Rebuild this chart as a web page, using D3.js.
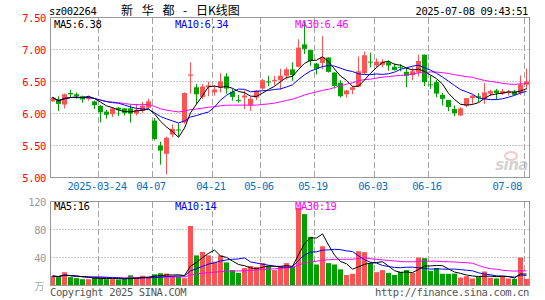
<!DOCTYPE html>
<html>
<head>
<meta charset="utf-8">
<script src="https://cdn.jsdelivr.net/npm/d3@7"></script>
<style>
  body { margin: 0; background: #fff; }
  svg { display: block; }
  text { font-family: "DejaVu Sans Mono", monospace; font-size: 10.5px; letter-spacing: -0.4px; }
</style>
</head>
<body>
<svg width="545" height="300"></svg>
<script>
// trading days, 2025-03-12 .. 2025-07-08
const dates = ['03-12','03-13','03-14','03-17','03-18','03-19','03-20','03-21','03-24','03-25',
  '03-26','03-27','03-28','03-31','04-01','04-02','04-03','04-07','04-08','04-09',
  '04-10','04-11','04-14','04-15','04-16','04-17','04-18','04-21','04-22','04-23',
  '04-24','04-25','04-28','04-29','04-30','05-06','05-07','05-08','05-09','05-12',
  '05-13','05-14','05-15','05-16','05-19','05-20','05-21','05-22','05-23','05-26',
  '05-27','05-28','05-29','05-30','06-03','06-04','06-05','06-06','06-09','06-10',
  '06-11','06-12','06-13','06-16','06-17','06-18','06-19','06-20','06-23','06-24',
  '06-25','06-26','06-27','06-30','07-01','07-02','07-03','07-04','07-07','07-08'];

const open = [6.19,6.22,6.14,6.32,6.30,6.27,6.23,6.19,6.12,6.03,
  5.99,6.09,6.08,6.08,6.00,6.04,6.09,5.89,5.50,5.37,
  5.67,5.75,5.86,6.59,6.41,6.26,6.41,6.33,6.41,6.58,
  6.34,6.21,6.25,6.13,6.25,6.39,6.50,6.51,6.52,6.59,
  6.69,6.73,7.08,6.99,6.78,6.79,6.875,6.64,6.48,6.30,
  6.37,6.42,6.63,6.81,6.755,6.76,6.80,6.73,6.73,6.65,
  6.60,6.64,6.92,6.455,6.49,6.29,6.21,6.07,5.97,6.125,
  6.24,6.27,6.23,6.31,6.36,6.31,6.32,6.345,6.32,6.45];
const high = [6.26,6.27,6.31,6.37,6.33,6.28,6.28,6.20,6.13,6.06,
  6.10,6.10,6.08,6.14,6.15,6.18,6.23,5.93,5.56,5.64,
  5.83,5.84,6.33,6.80,6.46,6.46,6.50,6.44,6.63,6.63,
  6.385,6.29,6.36,6.265,6.37,6.54,6.59,6.59,6.70,6.72,
  6.80,7.16,7.44,7.00,6.79,7.21,6.88,6.65,6.52,6.37,
  6.43,6.89,6.965,6.95,6.86,6.85,6.83,6.78,6.77,6.72,
  6.72,6.92,6.92,6.595,6.525,6.32,6.21,6.125,6.10,6.24,
  6.29,6.32,6.475,6.37,6.385,6.385,6.37,6.37,6.595,6.70];
const low = [6.18,6.04,6.08,6.25,6.23,6.17,6.20,6.07,5.86,5.92,
  5.945,5.96,5.97,5.86,5.97,6.01,6.08,5.58,5.20,5.05,
  5.63,5.64,5.84,6.31,6.15,6.23,6.27,6.28,6.33,6.31,
  6.20,6.17,6.07,6.04,6.21,6.37,6.43,6.44,6.37,6.53,
  6.51,6.72,6.93,6.745,6.61,6.69,6.64,6.39,6.25,6.25,
  6.30,6.41,6.615,6.72,6.72,6.72,6.67,6.67,6.66,6.41,
  6.52,6.58,6.43,6.385,6.255,6.125,6.035,5.96,5.96,6.10,
  6.15,6.18,6.15,6.27,6.22,6.29,6.28,6.28,6.29,6.375];
const close = [6.25,6.15,6.30,6.30,6.27,6.22,6.25,6.13,6.02,5.98,
  6.08,6.06,6.01,6.00,6.06,6.12,6.19,5.60,5.42,5.62,
  5.76,5.74,6.32,6.61,6.30,6.42,6.44,6.375,6.50,6.39,
  6.26,6.20,6.28,6.23,6.36,6.52,6.49,6.525,6.59,6.69,
  6.60,7.03,7.01,6.82,6.70,6.88,6.65,6.43,6.27,6.36,
  6.41,6.66,6.91,6.80,6.81,6.81,6.75,6.68,6.72,6.59,
  6.66,6.82,6.49,6.45,6.31,6.23,6.10,6.005,6.08,6.24,
  6.28,6.245,6.33,6.35,6.32,6.35,6.345,6.29,6.45,6.50];
// volume, 万手
const volume = [13.5,12,19,12,10.5,9,9,11.5,11,9,
  9,8.5,9,14.5,11.5,14,11,16,17.5,17,
  13.5,12.5,10.5,85,43,48,43,34,43,33,
  22,18,25,28,26.5,32,28,22,28,32,
  26.5,111,102,69.5,30,56,32,30,23,15,
  16.7,49,47.6,32,19,22,18,15,19.5,22,
  18,40,39,21,25,16.7,16.7,17,11.4,13.3,
  10,12,20,11,10,13,10,9.5,40,9.5];

const tickDates = ['03-24','04-07','04-21','05-06','05-19','06-03','06-16','07-08'];
const tickLabels = ['2025-03-24','04-07','04-21','05-06','05-19','06-03','06-16','07-08'];
const priceTicks = [5.0, 5.5, 6.0, 6.5, 7.0, 7.5];
const volTicks = [40, 80, 120];
const maPeriods = [5, 10, 30];
const maColors = ['#000000', '#0000ff', '#ff00ff'];
const priceMaText = ['MA5:6.38', 'MA10:6.34', 'MA30:6.46'];
const volMaText = ['MA5:16', 'MA10:14', 'MA30:19'];

const RED = '#ff5353', GREEN = '#00a000';

const svg = d3.select('svg');

const x = d3.scaleBand().domain(dates).range([50, 530]);
const yP = d3.scaleLinear().domain([5, 7.5]).range([177.5, 17.5]);
const yV = d3.scaleLinear().domain([0, 120]).range([285.5, 201.5]);
const cx = d => x(d) + 2.5;

const movingAvg = (arr, n) => arr.map((_, i) => d3.mean(arr.slice(Math.max(0, i - n + 1), i + 1)));

// header
svg.append('text').attr('x', 49).attr('y', 15).text('sz002264');
svg.append('text').attr('x', 121).attr('y', 15)
  .style('font-family', '"Noto Sans CJK SC"').style('font-size', '12px')
  .style('letter-spacing', '0').style('word-spacing', '6px').style('white-space', 'pre')
  .text('新 华 都 - 日K线图');
svg.append('text').attr('x', 528).attr('y', 15).attr('text-anchor', 'end').text('2025-07-08 09:43:51');

// grids
function grid(g, yScale, yVals, top, bottom) {
  g.selectAll('line.h').data(yVals).enter().append('line')
    .attr('x1', 50.5).attr('x2', 529.5)
    .attr('y1', d => Math.round(yScale(d) - 0.5) + 0.5).attr('y2', d => Math.round(yScale(d) - 0.5) + 0.5)
    .attr('stroke', '#909090').attr('stroke-dasharray', '1,2');
  g.selectAll('line.v').data(tickDates).enter().append('line')
    .attr('x1', d => x(d) + 0.5).attr('x2', d => x(d) + 0.5)
    .attr('y1', top).attr('y2', bottom)
    .attr('stroke', '#a4a4a4').attr('stroke-dasharray', '6,3');
}
grid(svg.append('g'), yP, priceTicks.filter(d => d > 5 && d < 7.5), 18, 177);
grid(svg.append('g'), yV, volTicks.filter(d => d < 120), 202, 285);

// sina watermark
const wm = svg.append('g').attr('opacity', 0.55);
wm.append('ellipse').attr('cx', 511).attr('cy', 156).attr('rx', 6).attr('ry', 4)
  .attr('fill', 'none').attr('stroke', '#f2a0a0').attr('stroke-width', 2);
wm.append('text').attr('x', 528).attr('y', 170).attr('text-anchor', 'end')
  .style('font-family', '"DejaVu Sans"').style('font-size', '15px').style('font-weight', 'bold')
  .style('font-style', 'italic').style('letter-spacing', '-0.5px').attr('fill', '#b0b0b0').text('sina');

// candles
const idx = d3.range(dates.length);
const candles = svg.append('g').selectAll('g').data(idx).enter().append('g')
  .attr('fill', i => close[i] >= open[i] ? RED : GREEN)
  .attr('stroke', i => close[i] >= open[i] ? RED : GREEN);
candles.append('line')
  .attr('x1', i => cx(dates[i])).attr('x2', i => cx(dates[i]))
  .attr('y1', i => yP(high[i])).attr('y2', i => yP(low[i]));
candles.append('rect')
  .attr('stroke', 'none')
  .attr('x', i => x(dates[i])).attr('width', 5)
  .attr('y', i => yP(Math.max(open[i], close[i])))
  .attr('height', i => Math.max(1, yP(Math.min(open[i], close[i])) - yP(Math.max(open[i], close[i]))));

// volume bars
svg.append('g').selectAll('rect').data(idx).enter().append('rect')
  .attr('fill', i => close[i] >= open[i] ? RED : GREEN)
  .attr('x', i => x(dates[i])).attr('width', 5)
  .attr('y', i => yV(volume[i])).attr('height', i => yV(0) - yV(volume[i]));

// moving average lines
maPeriods.slice().reverse().forEach((n, k) => {
  const color = maColors[maPeriods.length - 1 - k];
  svg.append('path').datum(movingAvg(close, n))
    .attr('fill', 'none').attr('stroke', color).attr('stroke-width', 1)
    .attr('d', d3.line().x((d, i) => cx(dates[i])).y(d => yP(d)));
  svg.append('path').datum(movingAvg(volume, n))
    .attr('fill', 'none').attr('stroke', color).attr('stroke-width', 1)
    .attr('d', d3.line().x((d, i) => cx(dates[i])).y(d => yV(d)));
});

// frames
svg.append('rect').attr('x', 50.5).attr('y', 17.5).attr('width', 479).attr('height', 160)
  .attr('fill', 'none').attr('stroke', '#999');
svg.append('rect').attr('x', 50.5).attr('y', 201.5).attr('width', 479).attr('height', 84)
  .attr('fill', 'none').attr('stroke', '#999');

// axis labels
svg.append('g').selectAll('text').data(priceTicks).enter().append('text')
  .attr('x', 46).attr('y', d => yP(d) + 4).attr('text-anchor', 'end')
  .attr('fill', '#ff0000').text(d3.format('.2f'));
svg.append('g').selectAll('text').data(volTicks).enter().append('text')
  .attr('x', 46).attr('y', d => yV(d) + 4).attr('text-anchor', 'end')
  .attr('fill', '#999').text(d => d);
svg.append('text').attr('x', 44).attr('y', 290).attr('text-anchor', 'end')
  .style('font-family', '"Noto Sans CJK SC"').style('font-size', '10px').attr('fill', '#aaa').text('万');

svg.append('g').selectAll('text').data(tickDates).enter().append('text')
  .attr('x', (d, i) => i === tickDates.length - 1 ? 522 : x(d) - 1)
  .attr('y', 189.5)
  .attr('text-anchor', (d, i) => i === tickDates.length - 1 ? 'end' : 'middle')
  .attr('fill', '#0a6fc4').text((d, i) => tickLabels[i]);

// MA legends
const legendX = [54, 175, 295];
svg.append('g').selectAll('text').data(priceMaText).enter().append('text')
  .attr('x', (d, i) => legendX[i]).attr('y', 27.5).attr('fill', (d, i) => maColors[i]).text(d => d);
svg.append('g').selectAll('text').data(volMaText).enter().append('text')
  .attr('x', (d, i) => legendX[i]).attr('y', 210).attr('fill', (d, i) => maColors[i]).text(d => d);

// footer
svg.append('text').attr('x', 50).attr('y', 296).attr('fill', '#555').text('Copyright 2025 SINA.COM');
svg.append('text').attr('x', 529).attr('y', 296).attr('text-anchor', 'end').attr('fill', '#555')
  .text('http://finance.sina.com.cn');
</script>
</body>
</html>
